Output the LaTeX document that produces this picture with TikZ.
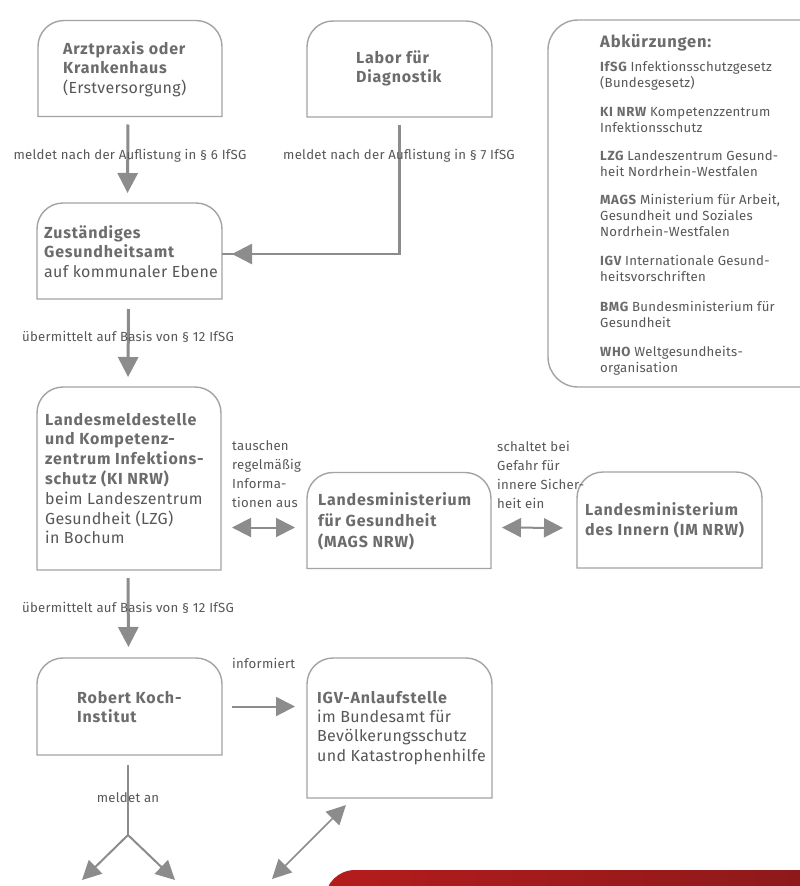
\documentclass[tikz,border=0pt]{standalone}
\usepackage{fontspec}
\setmainfont{Fira Sans}[LetterSpace=2, BoldFeatures={LetterSpace=5}]
\usetikzlibrary{arrows.meta,calc}
\definecolor{bordergray}{HTML}{A3A3A3}
\definecolor{arrowgray}{HTML}{8C8C8C}
\definecolor{headgray}{HTML}{6C6C6C}
\definecolor{txtgray}{HTML}{575757}
\definecolor{redL}{HTML}{B51C1C}
\definecolor{redR}{HTML}{8A191B}
\newcommand\tbox[3]{% name, width, height
  \path (#1) ++(-#2/2,-#3/2) coordinate (#1-sw) ++(#2,0) coordinate (#1-se) ++(0,#3) coordinate (#1-ne) ++(-#2,0) coordinate (#1-nw);
  \draw[boxline] (#1-sw) -- ($(#1-nw)+(0,-26)$) arc[start angle=180,end angle=90,radius=26] -- ($(#1-ne)+(-26,0)$) arc[start angle=90,end angle=0,radius=26] -- (#1-se) -- cycle;}
\tikzset{
  x=1pt, y=1pt,
  boxline/.style={draw=bordergray, line width=1.4pt},
  boxnode/.style={rectangle, inner sep=0pt, outer sep=0pt},
  btxt/.style={anchor=base west, inner sep=0pt, align=left, text=txtgray, font=\fontsize{16}{19.8}\selectfont},
  ltxt/.style={anchor=base, inner sep=0pt, align=center, text=txtgray, font=\fontsize{13.2}{18.7}\selectfont},
  lgtxt/.style={anchor=base west, inner sep=0pt, align=left, text=txtgray, font=\fontsize{13.2}{16}\selectfont},
  flow/.style={draw=arrowgray, line width=3pt, -{Triangle[length=20pt,width=20pt]}},
  dbl/.style={draw=arrowgray, line width=2pt, {Triangle[length=19pt,width=19pt]}-{Triangle[length=19pt,width=19pt]}},
  thin/.style={draw=arrowgray, line width=2pt, -{Triangle[length=19pt,width=19pt]}},
}
\newcommand\hd[1]{{\bfseries\color{headgray}#1}}
\begin{document}
\begin{tikzpicture}
\useasboundingbox (0,0) rectangle (800,-886);
\clip (0,0) rectangle (800,-886);
\fill[white] (0,0) rectangle (800,-886);

% boxes (nodes as anchors for outlines)
\node[boxnode, minimum width=184pt, minimum height=96pt] (arzt) at (130,-68.5) {};
\node[boxnode, minimum width=185pt, minimum height=96pt] (labor) at (399.5,-69) {};
\node[boxnode, minimum width=185pt, minimum height=96pt] (ga) at (129.5,-251) {};
\node[boxnode, minimum width=184pt, minimum height=183pt] (lms) at (129,-478.5) {};
\node[boxnode, minimum width=184pt, minimum height=96pt] (mags) at (399,-520.5) {};
\node[boxnode, minimum width=185pt, minimum height=96pt] (im) at (669.5,-520) {};
\node[boxnode, minimum width=185pt, minimum height=97pt] (rki) at (129.5,-706.5) {};
\node[boxnode, minimum width=185pt, minimum height=140pt] (igv) at (399.5,-728) {};

\tbox{arzt}{184}{96}
\tbox{labor}{185}{96}
\tbox{ga}{185}{96}
\tbox{lms}{184}{183}
\tbox{mags}{184}{96}
\tbox{im}{185}{96}
\tbox{rki}{185}{97}
\tbox{igv}{185}{140}

% box texts (anchor = baseline of last line)
\node[btxt] (arztT) at (63,-93.6) {\hd{Arztpraxis oder}\\\hd{Krankenhaus}\\(Erstversorgung)};
\node[btxt] (laborT) at (356,-82.8) {\hd{Labor für}\\\hd{Diagnostik}};
\node[btxt] (gaT) at (44,-277.6) {\hd{Zuständiges}\\\hd{Gesundheitsamt}\\auf kommunaler Ebene};
\node[btxt] (lmsT) at (45,-543.8) {\hd{Landesmeldestelle}\\\hd{und Kompetenz-}\\\hd{zentrum Infektions-}\\\hd{schutz (KI NRW)}\\beim Landeszentrum\\Gesundheit (LZG)\\in Bochum};
\node[btxt, font=\fontsize{16}{21}\selectfont] (magsT) at (318,-547) {\hd{Landesministerium}\\\hd{für Gesundheit}\\\hd{(MAGS NRW)}};
\node[btxt, font=\fontsize{16}{20}\selectfont] (imT) at (585,-535) {\hd{Landesministerium}\\\hd{des Innern (IM NRW)}};
\node[btxt] (rkiT) at (77,-722.8) {\hd{Robert Koch-}\\\hd{Institut}};
\node[btxt, font=\fontsize{16}{19.3}\selectfont] (igvT) at (317,-761) {\hd{IGV-Anlaufstelle}\\im Bundesamt für\\Bevölkerungsschutz\\und Katastrophenhilfe};

% legend
\draw[boxline] (830,-20) -- (578,-20) arc[start angle=90,end angle=180,radius=30] -- (548,-357) arc[start angle=180,end angle=270,radius=30] -- (830,-387);
\node[lgtxt, font=\fontsize{16.5}{16}\selectfont] (lgH) at (600,-47) {\hd{Abkürzungen:}};
\node[lgtxt] (lgT) at (600,-372) {\hd{IfSG} Infektionsschutzgesetz\\(Bundesgesetz)\\[12.5pt]
\hd{KI NRW} Kompetenzzentrum\\Infektionsschutz\\[12pt]
\hd{LZG} Landeszentrum Gesund-\\heit Nordrhein-Westfalen\\[12pt]
\hd{MAGS} Ministerium für Arbeit,\\Gesundheit und Soziales\\Nordrhein-Westfalen\\[13pt]
\hd{IGV} Internationale Gesund-\\heitsvorschriften\\[14pt]
\hd{BMG} Bundesministerium für\\Gesundheit\\[13pt]
\hd{WHO} Weltgesundheits-\\organisation};

% connectors
\draw[flow, shorten <=8pt, shorten >=10pt] ([xshift=-2pt]arzt.south) -- ([xshift=-2pt]ga.north);
\draw[flow, line width=2.4pt, -, shorten <=8pt] (labor.south) |- ([yshift=-3pt]ga.east);
\draw[flow, line width=2.4pt, shorten >=10pt] ([yshift=-3pt,xshift=60pt]ga.east) -- ([yshift=-3pt]ga.east);
\draw[flow, shorten <=10pt, shorten >=10pt] ([xshift=-1pt]ga.south) -- ([xshift=-1pt]lms.north);
\draw[flow, shorten <=8pt, shorten >=11pt] ([xshift=-1pt]lms.south) -- ([xshift=-1pt]rki.north);
\draw[dbl, shorten <=11pt, shorten >=12pt] ([yshift=-7pt]lms.east |- mags.west) -- ([yshift=-7pt]mags.west);
\draw[dbl, shorten <=11pt, shorten >=14pt] ([yshift=-7pt]mags.east) -- ([yshift=-8pt]im.west);
\draw[thin, shorten <=10pt, shorten >=12pt] (rki.east) -- (rki.east -| igv.west);
\coordinate (fork) at (128,-835);
\coordinate (outL) at (82,-880);
\coordinate (outR) at (175,-880);
\coordinate (outI) at (272,-879);
\draw[draw=arrowgray, line width=2pt, shorten <=10pt] ([xshift=-1.5pt]rki.south) -- (fork);
\draw[thin] (fork) -- (outL);
\draw[thin] (fork) -- (outR);
\draw[dbl, line width=1.6pt, shorten >=10pt] (outI) -- ($(igv.south west)+(46,0)$);

% edge labels
\node[ltxt] (l1) at (130,-159) {meldet nach der Auflistung in § 6 IfSG};
\node[ltxt] (l2) at (399,-159) {meldet nach der Auflistung in § 7 IfSG};
\node[ltxt] (l3) at (128,-341) {übermittelt auf Basis von § 12 IfSG};
\node[ltxt] (l4) at (128,-612) {übermittelt auf Basis von § 12 IfSG};
\node[ltxt, anchor=base west, align=left] (l5) at (232,-507) {tauschen\\regelmäßig\\Informa-\\tionen aus};
\node[ltxt, anchor=base west, align=left] (l6) at (497,-508) {schaltet bei\\Gefahr für\\innere Sicher-\\heit ein};
\node[ltxt, anchor=base west] (l7) at (232,-668) {informiert};
\node[ltxt] (l8) at (128,-802) {meldet an};

% red bar
\shade[left color=redL, right color=redR, rounded corners=30pt] (325,-920) rectangle (840,-870);
\end{tikzpicture}
\end{document}
